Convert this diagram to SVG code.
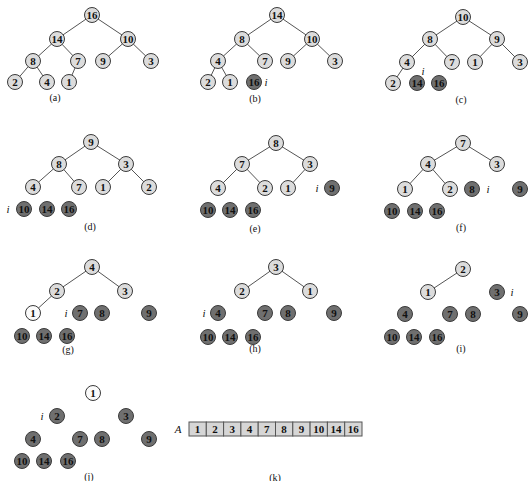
<svg xmlns="http://www.w3.org/2000/svg" width="529" height="481" viewBox="0 0 529 481">
<style>
.e{stroke:#555;stroke-width:1;fill:none}
.l circle{fill:#dcdcdc;stroke:#3a3a3a;stroke-width:1}
.d circle{fill:#6f6f6f;stroke:#3a3a3a;stroke-width:1}
.w circle{fill:#fafafa;stroke:#3a3a3a;stroke-width:1}
.n text,.l text,.d text,.w text{font-family:"Liberation Serif",serif;font-size:11px;font-weight:bold;fill:#111;text-anchor:middle;dominant-baseline:central}
.i{font-family:"Liberation Serif",serif;font-size:11px;font-style:italic;fill:#111;text-anchor:middle;dominant-baseline:central}
.cap{font-family:"Liberation Serif",serif;font-size:10px;fill:#111;text-anchor:middle;dominant-baseline:central}
.cell rect{fill:#d6d6d6;stroke:#555;stroke-width:1}
.cell text{font-family:"Liberation Serif",serif;font-size:11px;font-weight:bold;fill:#111;text-anchor:middle;dominant-baseline:central}
</style>
<rect width="529" height="481" fill="#fff"/>
<g id="connectors">
<!-- a -->
<path class="e" d="M92,15L57,39M92,15L128,39M57,39L33,61M57,39L78,61M128,39L103,61M128,39L151,61M33,61L15,82M33,61L47,82M78,61L69,82"/>
<!-- b -->
<path class="e" d="M277,15L242,39M277,15L312,39M242,39L218,61M242,39L265,61M312,39L288,61M312,39L335,61M218,61L208,82M218,61L230,82"/>
<!-- c -->
<path class="e" d="M463,17L430,39M463,17L497,39M430,39L407,62M430,39L452,62M497,39L475,62M497,39L520,62M407,62L393,83"/>
<!-- d -->
<path class="e" d="M91,142L59,164M91,142L126,164M59,164L33,187M59,164L79,187M126,164L103,187M126,164L149,187"/>
<!-- e -->
<path class="e" d="M276,143L242,164M276,143L310,164M242,164L218,188M242,164L265,188M310,164L288,188"/>
<!-- f -->
<path class="e" d="M463,143L428,164M463,143L497,164M428,164L405,189M428,164L450,189"/>
<!-- g -->
<path class="e" d="M92,267L57,291M92,267L125,291M57,291L33,313"/>
<!-- h -->
<path class="e" d="M276,267L242,291M276,267L310,291"/>
<!-- i -->
<path class="e" d="M463,269L428,292"/>
</g>

<!-- (a) -->
<g id="a16" class="l"><circle cx="92" cy="15" r="7.5"/><text x="92" y="15">16</text></g>
<g id="a14" class="l"><circle cx="57" cy="39" r="7.5"/><text x="57" y="39">14</text></g>
<g id="a10" class="l"><circle cx="128" cy="39" r="7.5"/><text x="128" y="39">10</text></g>
<g id="a8" class="l"><circle cx="33" cy="61" r="7.5"/><text x="33" y="61">8</text></g>
<g id="a7" class="l"><circle cx="78" cy="61" r="7.5"/><text x="78" y="61">7</text></g>
<g id="a9" class="l"><circle cx="103" cy="61" r="7.5"/><text x="103" y="61">9</text></g>
<g id="a3" class="l"><circle cx="151" cy="61" r="7.5"/><text x="151" y="61">3</text></g>
<g id="a2" class="l"><circle cx="15" cy="82" r="7.5"/><text x="15" y="82">2</text></g>
<g id="a4" class="l"><circle cx="47" cy="82" r="7.5"/><text x="47" y="82">4</text></g>
<g id="a1" class="l"><circle cx="69" cy="82" r="7.5"/><text x="69" y="82">1</text></g>
<text class="cap" x="55" y="97">(a)</text>

<!-- (b) -->
<g id="b14" class="l"><circle cx="277" cy="15" r="7.5"/><text x="277" y="15">14</text></g>
<g id="b8" class="l"><circle cx="242" cy="39" r="7.5"/><text x="242" y="39">8</text></g>
<g id="b10" class="l"><circle cx="312" cy="39" r="7.5"/><text x="312" y="39">10</text></g>
<g id="b4" class="l"><circle cx="218" cy="61" r="7.5"/><text x="218" y="61">4</text></g>
<g id="b7" class="l"><circle cx="265" cy="61" r="7.5"/><text x="265" y="61">7</text></g>
<g id="b9" class="l"><circle cx="288" cy="61" r="7.5"/><text x="288" y="61">9</text></g>
<g id="b3" class="l"><circle cx="335" cy="61" r="7.5"/><text x="335" y="61">3</text></g>
<g id="b2" class="l"><circle cx="208" cy="82" r="7.5"/><text x="208" y="82">2</text></g>
<g id="b1" class="l"><circle cx="230" cy="82" r="7.5"/><text x="230" y="82">1</text></g>
<g id="b16" class="d"><circle cx="254" cy="82" r="7.5"/><text x="254" y="82">16</text></g>
<text class="i" x="266" y="82">i</text>
<text class="cap" x="255" y="98">(b)</text>

<!-- (c) -->
<g id="c10" class="l"><circle cx="463" cy="17" r="7.5"/><text x="463" y="17">10</text></g>
<g id="c8" class="l"><circle cx="430" cy="39" r="7.5"/><text x="430" y="39">8</text></g>
<g id="c9" class="l"><circle cx="497" cy="39" r="7.5"/><text x="497" y="39">9</text></g>
<g id="c4" class="l"><circle cx="407" cy="62" r="7.5"/><text x="407" y="62">4</text></g>
<g id="c7" class="l"><circle cx="452" cy="62" r="7.5"/><text x="452" y="62">7</text></g>
<g id="c1" class="l"><circle cx="475" cy="62" r="7.5"/><text x="475" y="62">1</text></g>
<g id="c3" class="l"><circle cx="520" cy="62" r="7.5"/><text x="520" y="62">3</text></g>
<g id="c2" class="l"><circle cx="393" cy="83" r="7.5"/><text x="393" y="83">2</text></g>
<g id="c14" class="d"><circle cx="417" cy="83" r="7.5"/><text x="417" y="83">14</text></g>
<g id="c16" class="d"><circle cx="439" cy="83" r="7.5"/><text x="439" y="83">16</text></g>
<text class="i" x="423" y="71">i</text>
<text class="cap" x="461" y="99">(c)</text>

<!-- (d) -->
<g id="d9" class="l"><circle cx="91" cy="142" r="7.5"/><text x="91" y="142">9</text></g>
<g id="d8" class="l"><circle cx="59" cy="164" r="7.5"/><text x="59" y="164">8</text></g>
<g id="d3" class="l"><circle cx="126" cy="164" r="7.5"/><text x="126" y="164">3</text></g>
<g id="d4" class="l"><circle cx="33" cy="187" r="7.5"/><text x="33" y="187">4</text></g>
<g id="d7" class="l"><circle cx="79" cy="187" r="7.5"/><text x="79" y="187">7</text></g>
<g id="d1" class="l"><circle cx="103" cy="187" r="7.5"/><text x="103" y="187">1</text></g>
<g id="d2" class="l"><circle cx="149" cy="187" r="7.5"/><text x="149" y="187">2</text></g>
<g id="d10" class="d"><circle cx="24" cy="209" r="7.5"/><text x="24" y="209">10</text></g>
<g id="d14" class="d"><circle cx="47" cy="209" r="7.5"/><text x="47" y="209">14</text></g>
<g id="d16" class="d"><circle cx="69" cy="209" r="7.5"/><text x="69" y="209">16</text></g>
<text class="i" x="8" y="209">i</text>
<text class="cap" x="90" y="226">(d)</text>

<!-- (e) -->
<g id="e8" class="l"><circle cx="276" cy="143" r="7.5"/><text x="276" y="143">8</text></g>
<g id="e7" class="l"><circle cx="242" cy="164" r="7.5"/><text x="242" y="164">7</text></g>
<g id="e3" class="l"><circle cx="310" cy="164" r="7.5"/><text x="310" y="164">3</text></g>
<g id="e4" class="l"><circle cx="218" cy="188" r="7.5"/><text x="218" y="188">4</text></g>
<g id="e2" class="l"><circle cx="265" cy="188" r="7.5"/><text x="265" y="188">2</text></g>
<g id="e1" class="l"><circle cx="288" cy="188" r="7.5"/><text x="288" y="188">1</text></g>
<g id="e9" class="d"><circle cx="332" cy="188" r="7.5"/><text x="332" y="188">9</text></g>
<g id="e10" class="d"><circle cx="208" cy="210" r="7.5"/><text x="208" y="210">10</text></g>
<g id="e14" class="d"><circle cx="230" cy="210" r="7.5"/><text x="230" y="210">14</text></g>
<g id="e16" class="d"><circle cx="253" cy="210" r="7.5"/><text x="253" y="210">16</text></g>
<text class="i" x="317" y="188">i</text>
<text class="cap" x="255" y="228">(e)</text>

<!-- (f) -->
<g id="f7" class="l"><circle cx="463" cy="143" r="7.5"/><text x="463" y="143">7</text></g>
<g id="f4" class="l"><circle cx="428" cy="164" r="7.5"/><text x="428" y="164">4</text></g>
<g id="f3" class="l"><circle cx="497" cy="164" r="7.5"/><text x="497" y="164">3</text></g>
<g id="f1" class="l"><circle cx="405" cy="189" r="7.5"/><text x="405" y="189">1</text></g>
<g id="f2" class="l"><circle cx="450" cy="189" r="7.5"/><text x="450" y="189">2</text></g>
<g id="f8" class="d"><circle cx="472" cy="189" r="7.5"/><text x="472" y="189">8</text></g>
<g id="f9" class="d"><circle cx="520" cy="189" r="7.5"/><text x="520" y="189">9</text></g>
<g id="f10" class="d"><circle cx="392" cy="211" r="7.5"/><text x="392" y="211">10</text></g>
<g id="f14" class="d"><circle cx="415" cy="211" r="7.5"/><text x="415" y="211">14</text></g>
<g id="f16" class="d"><circle cx="437" cy="211" r="7.5"/><text x="437" y="211">16</text></g>
<text class="i" x="488" y="189">i</text>
<text class="cap" x="461" y="227">(f)</text>

<!-- (g) -->
<g id="g4" class="l"><circle cx="92" cy="267" r="7.5"/><text x="92" y="267">4</text></g>
<g id="g2" class="l"><circle cx="57" cy="291" r="7.5"/><text x="57" y="291">2</text></g>
<g id="g3" class="l"><circle cx="125" cy="291" r="7.5"/><text x="125" y="291">3</text></g>
<g id="g1" class="w"><circle cx="33" cy="313" r="7.5"/><text x="33" y="313">1</text></g>
<g id="g7" class="d"><circle cx="80" cy="313" r="7.5"/><text x="80" y="313">7</text></g>
<g id="g8" class="d"><circle cx="102" cy="313" r="7.5"/><text x="102" y="313">8</text></g>
<g id="g9" class="d"><circle cx="149" cy="313" r="7.5"/><text x="149" y="313">9</text></g>
<g id="g10" class="d"><circle cx="22" cy="336" r="7.5"/><text x="22" y="336">10</text></g>
<g id="g14" class="d"><circle cx="44" cy="336" r="7.5"/><text x="44" y="336">14</text></g>
<g id="g16" class="d"><circle cx="67" cy="336" r="7.5"/><text x="67" y="336">16</text></g>
<text class="i" x="66" y="313">i</text>
<text class="cap" x="68" y="349">(g)</text>

<!-- (h) -->
<g id="h3" class="l"><circle cx="276" cy="267" r="7.5"/><text x="276" y="267">3</text></g>
<g id="h2" class="l"><circle cx="242" cy="291" r="7.5"/><text x="242" y="291">2</text></g>
<g id="h1" class="l"><circle cx="310" cy="291" r="7.5"/><text x="310" y="291">1</text></g>
<g id="h4" class="d"><circle cx="218" cy="313" r="7.5"/><text x="218" y="313">4</text></g>
<g id="h7" class="d"><circle cx="265" cy="313" r="7.5"/><text x="265" y="313">7</text></g>
<g id="h8" class="d"><circle cx="288" cy="313" r="7.5"/><text x="288" y="313">8</text></g>
<g id="h9" class="d"><circle cx="334" cy="313" r="7.5"/><text x="334" y="313">9</text></g>
<g id="h10" class="d"><circle cx="208" cy="337" r="7.5"/><text x="208" y="337">10</text></g>
<g id="h14" class="d"><circle cx="230" cy="337" r="7.5"/><text x="230" y="337">14</text></g>
<g id="h16" class="d"><circle cx="253" cy="337" r="7.5"/><text x="253" y="337">16</text></g>
<text class="i" x="204" y="313">i</text>
<text class="cap" x="255" y="348">(h)</text>

<!-- (i) -->
<g id="i2" class="l"><circle cx="463" cy="269" r="7.5"/><text x="463" y="269">2</text></g>
<g id="i1" class="l"><circle cx="428" cy="292" r="7.5"/><text x="428" y="292">1</text></g>
<g id="i3" class="d"><circle cx="497" cy="292" r="7.5"/><text x="497" y="292">3</text></g>
<g id="i4" class="d"><circle cx="405" cy="314" r="7.5"/><text x="405" y="314">4</text></g>
<g id="i7" class="d"><circle cx="450" cy="314" r="7.5"/><text x="450" y="314">7</text></g>
<g id="i8" class="d"><circle cx="473" cy="314" r="7.5"/><text x="473" y="314">8</text></g>
<g id="i9" class="d"><circle cx="520" cy="314" r="7.5"/><text x="520" y="314">9</text></g>
<g id="i10" class="d"><circle cx="392" cy="337" r="7.5"/><text x="392" y="337">10</text></g>
<g id="i14" class="d"><circle cx="414" cy="337" r="7.5"/><text x="414" y="337">14</text></g>
<g id="i16" class="d"><circle cx="437" cy="337" r="7.5"/><text x="437" y="337">16</text></g>
<text class="i" x="512" y="292">i</text>
<text class="cap" x="461" y="348">(i)</text>

<!-- (j) -->
<g id="j1" class="w"><circle cx="93" cy="393" r="7.5"/><text x="93" y="393">1</text></g>
<g id="j2" class="d"><circle cx="57" cy="416" r="7.5"/><text x="57" y="416">2</text></g>
<g id="j3" class="d"><circle cx="126" cy="416" r="7.5"/><text x="126" y="416">3</text></g>
<g id="j4" class="d"><circle cx="33" cy="439" r="7.5"/><text x="33" y="439">4</text></g>
<g id="j7" class="d"><circle cx="80" cy="439" r="7.5"/><text x="80" y="439">7</text></g>
<g id="j8" class="d"><circle cx="102" cy="439" r="7.5"/><text x="102" y="439">8</text></g>
<g id="j9" class="d"><circle cx="149" cy="439" r="7.5"/><text x="149" y="439">9</text></g>
<g id="j10" class="d"><circle cx="22" cy="461" r="7.5"/><text x="22" y="461">10</text></g>
<g id="j14" class="d"><circle cx="44" cy="461" r="7.5"/><text x="44" y="461">14</text></g>
<g id="j16" class="d"><circle cx="68" cy="461" r="7.5"/><text x="68" y="461">16</text></g>
<text class="i" x="42" y="416">i</text>
<text class="cap" x="89" y="476">(j)</text>

<!-- (k) -->
<text class="i" x="178" y="429">A</text>
<g id="array" class="cell">
<rect x="189" y="422" width="17.3" height="14"/><text x="197.6" y="429">1</text>
<rect x="206.3" y="422" width="17.3" height="14"/><text x="214.9" y="429">2</text>
<rect x="223.6" y="422" width="17.3" height="14"/><text x="232.2" y="429">3</text>
<rect x="240.9" y="422" width="17.3" height="14"/><text x="249.5" y="429">4</text>
<rect x="258.2" y="422" width="17.3" height="14"/><text x="266.8" y="429">7</text>
<rect x="275.5" y="422" width="17.3" height="14"/><text x="284.1" y="429">8</text>
<rect x="292.8" y="422" width="17.3" height="14"/><text x="301.4" y="429">9</text>
<rect x="310.1" y="422" width="17.3" height="14"/><text x="318.7" y="429">10</text>
<rect x="327.4" y="422" width="17.3" height="14"/><text x="336" y="429">14</text>
<rect x="344.7" y="422" width="17.3" height="14"/><text x="353.3" y="429">16</text>
</g>
<text class="cap" x="275" y="477">(k)</text>
</svg>
